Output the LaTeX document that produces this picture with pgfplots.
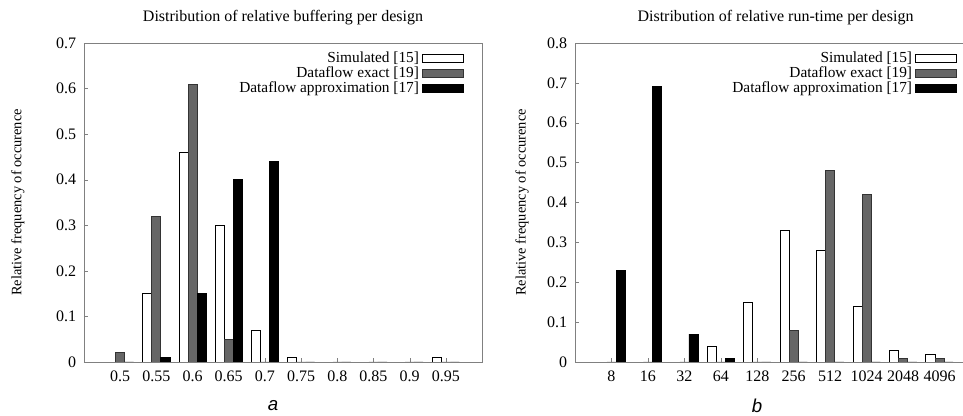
\documentclass[border=0pt]{standalone}
\usepackage{pgfplots}
\pgfplotsset{compat=1.18}
\usepackage{fontspec}
\setmainfont{Liberation Serif}
\setsansfont{Liberation Sans}
\definecolor{barGray}{gray}{0.4}
\definecolor{axGray}{gray}{0.5}
\pgfplotsset{
 mybars/.style={
  scale only axis, height=239.25pt, xmin=-1, xmax=10, ymin=0,
  xtick={0,...,9}, tick align=inside, xtick pos=bottom, ytick pos=left,
  major tick length=3pt,
  axis line style={axGray}, tick style={axGray},
  /pgf/number format/assume math mode=true,
  ticklabel style={font=\fontsize{12}{14}\selectfont},
  xticklabel style={yshift=-3pt},
  yticklabel style={xshift=-2pt},
  label style={font=\fontsize{10.8}{12}\selectfont},
  legend cell align=right, legend plot pos=right,
  legend style={draw=none, fill=none, font=\fontsize{11.5}{12}\selectfont, anchor=north east, row sep=-2.5pt},
 },
 wbar/.style={ybar, bar width=0.25, bar shift=-0.25, fill=white, draw=black, line width=0.6pt},
 gbar/.style={ybar, bar width=0.25, bar shift=0, fill=barGray, draw=black!80, line width=0.6pt},
 kbar/.style={ybar, bar width=0.25, bar shift=0.25, fill=black, draw=black, line width=0.6pt},
}
\begin{document}
\fontsize{11}{13}\selectfont
\begin{tikzpicture}[x=0.75pt,y=0.75pt]
\useasboundingbox (0pt,0pt) rectangle (722.25pt,312pt);
\clip (0pt,0pt) rectangle (722.25pt,312pt);
\begin{axis}[mybars, at={(63pt,40.5pt)}, anchor=south west, width=298.5pt,
  ymax=0.7, ytick={0,0.1,0.2,0.3,0.4,0.5,0.6,0.7},
  xticklabels={0.5,0.55,0.6,0.65,0.7,0.75,0.8,0.85,0.9,0.95},
  ylabel={Relative frequency of occurence},
  ylabel style={at={(axis description cs:-0.166,0.5)}, anchor=center},
  legend style={at={(axis description cs:0.965,0.99)}},
  legend image code/.code={\draw[#1] (6pt,-3pt) rectangle (37pt,3pt);},
  title={Distribution of relative buffering per design},
  title style={at={(axis description cs:0.5,1)}, anchor=south, yshift=4pt, font=\fontsize{12}{14}\selectfont},
]
\addplot[wbar] coordinates {(0,0) (1,0.15) (2,0.46) (3,0.30) (4,0.07) (5,0.01) (6,0) (7,0) (8,0) (9,0.01)};
\addplot[gbar] coordinates {(0,0.02) (1,0.32) (2,0.61) (3,0.05) (4,0) (5,0) (6,0) (7,0) (8,0) (9,0)};
\addplot[kbar] coordinates {(0,0) (1,0.01) (2,0.15) (3,0.40) (4,0.44) (5,0) (6,0) (7,0) (8,0) (9,0)};
\legend{Simulated [15], Dataflow exact [19], Dataflow approximation [17]}
\end{axis}
\begin{axis}[mybars, at={(431.25pt,40.5pt)}, anchor=south west, width=300.75pt,
  ymax=0.8, ytick={0,0.1,0.2,0.3,0.4,0.5,0.6,0.7,0.8},
  xticklabels={8,16,32,64,128,256,512,1024,2048,4096},
  ylabel={Relative frequency of occurence},
  ylabel style={at={(axis description cs:-0.132,0.5)}, anchor=center},
  legend style={at={(axis description cs:0.963,0.99)}},
  legend image code/.code={\draw[#1] (6pt,-3pt) rectangle (37pt,3pt);},
  title={Distribution of relative run-time per design},
  title style={at={(axis description cs:0.5,1)}, anchor=south, yshift=4pt, font=\fontsize{12}{14}\selectfont},
]
\addplot[wbar] coordinates {(0,0) (1,0) (2,0) (3,0.04) (4,0.15) (5,0.33) (6,0.28) (7,0.14) (8,0.03) (9,0.02)};
\addplot[gbar] coordinates {(0,0) (1,0) (2,0) (3,0) (4,0) (5,0.08) (6,0.48) (7,0.42) (8,0.01) (9,0.01)};
\addplot[kbar] coordinates {(0,0.23) (1,0.69) (2,0.07) (3,0.01) (4,0) (5,0) (6,0) (7,0) (8,0) (9,0)};
\legend{Simulated [15], Dataflow exact [19], Dataflow approximation [17]}
\end{axis}
\node[font=\sffamily\itshape\fontsize{14}{16}\selectfont, inner sep=1pt] at (204.75pt,8pt) {a};
\node[font=\sffamily\itshape\fontsize{14}{16}\selectfont, inner sep=1pt] at (567.75pt,8pt) {b};
\end{tikzpicture}
\end{document}
